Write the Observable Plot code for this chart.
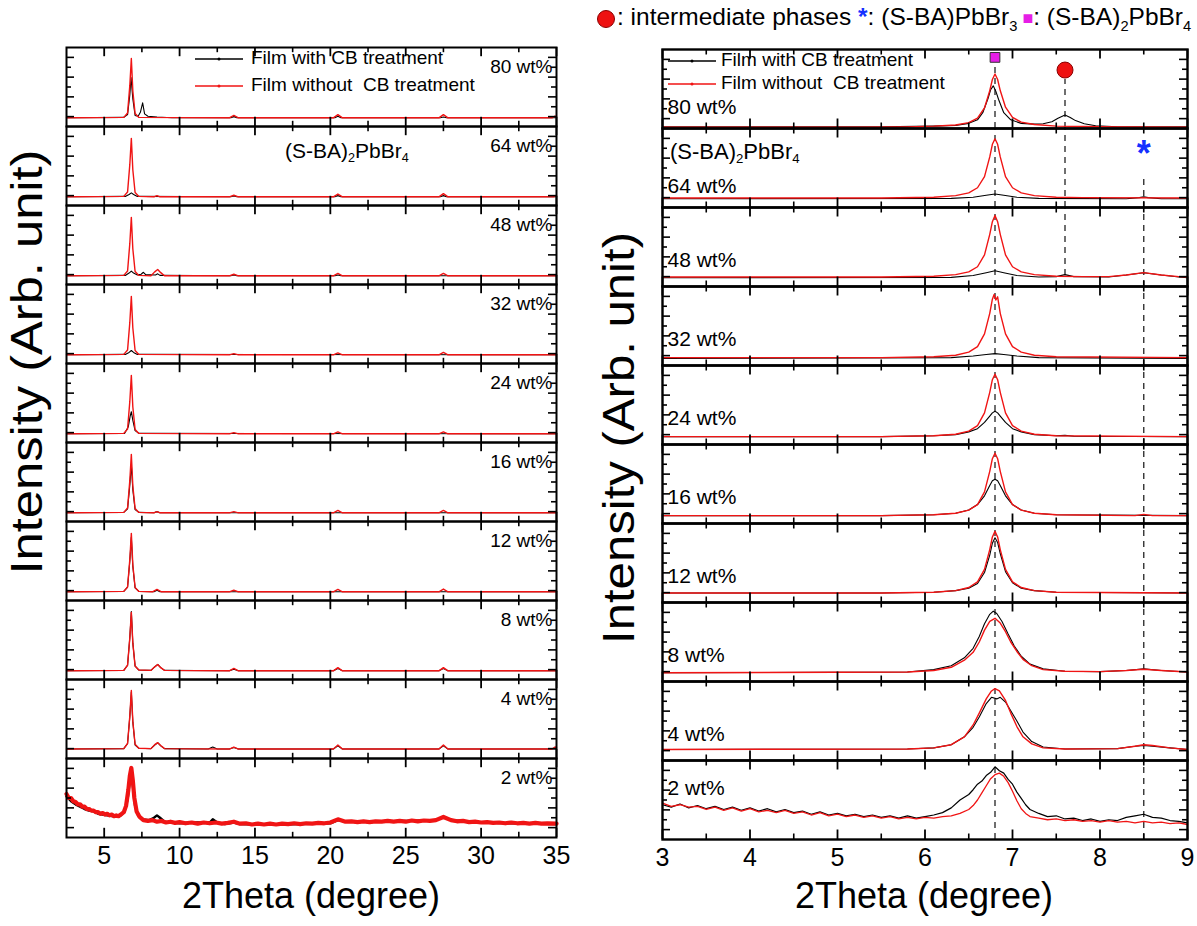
<!DOCTYPE html>
<html><head><meta charset="utf-8">
<script src="https://cdn.jsdelivr.net/npm/d3@7"></script>
<script src="https://cdn.jsdelivr.net/npm/@observablehq/plot@0.6"></script>
<style>
body{margin:0;background:#fff;}
#wrap{position:relative;width:1197px;height:926px;overflow:hidden;font-family:"Liberation Sans",Arial,sans-serif;}
#left{position:absolute;left:0;top:0;}
#right{position:absolute;left:600px;top:0;}
#overlay{position:absolute;left:0;top:0;pointer-events:none;}
</style></head>
<body>
<div id="wrap"><div id="left"></div><div id="right"></div><svg id="overlay" width="1197" height="926"></svg></div>
<script>
// ---------------- DATA ----------------
const concs = ["80 wt%","64 wt%","48 wt%","32 wt%","24 wt%","16 wt%","12 wt%","8 wt%","4 wt%","2 wt%"];

// Left panel (2θ 2.5–35): [x, normalized intensity within its sub-panel]
const L80_with = [[2.5,.11],[6.3,.115],[6.55,.15],[6.7,.4],[6.78,.62],[6.9,.35],[7.05,.14],[7.25,.13],[7.4,.18],[7.55,.3],[7.68,.16],[7.9,.13],[8.5,.12],[9.5,.11],[13.4,.11],[13.6,.125],[13.8,.11],[20.3,.11],[20.5,.13],[20.7,.11],[27.3,.11],[27.5,.12],[27.7,.11],[35,.11]];
const L80_without = [[2.5,.11],[6.3,.115],[6.55,.17],[6.7,.52],[6.8,.86],[6.9,.45],[7.05,.165],[7.3,.115],[13.3,.11],[13.6,.14],[13.9,.11],[20.2,.11],[20.5,.15],[20.8,.11],[27.2,.11],[27.5,.15],[27.8,.11],[34.7,.11],[34.9,.13],[35,.12]];
const L64_with = [[2.5,.11],[6.4,.115],[6.65,.14],[6.8,.16],[6.95,.14],[7.2,.115],[13.4,.11],[13.6,.12],[13.8,.11],[20.3,.11],[20.5,.125],[20.7,.11],[27.3,.11],[27.5,.125],[27.7,.11],[35,.11]];
const L64_without = [[2.5,.11],[6.3,.115],[6.55,.17],[6.7,.52],[6.8,.85],[6.9,.45],[7.05,.165],[7.3,.115],[8.3,.11],[8.5,.125],[8.7,.11],[13.3,.11],[13.6,.13],[13.9,.11],[20.2,.11],[20.5,.145],[20.8,.11],[27.2,.11],[27.5,.15],[27.8,.11],[34.8,.11],[35,.12]];
const L48_with = [[2.5,.11],[6.4,.115],[6.65,.145],[6.8,.17],[6.95,.145],[7.2,.12],[7.45,.13],[7.6,.155],[7.75,.125],[8.4,.12],[8.55,.135],[8.7,.115],[13.4,.11],[13.6,.12],[13.8,.11],[20.3,.11],[20.5,.12],[20.7,.11],[35,.11]];
const L48_without = [[2.5,.11],[6.3,.115],[6.55,.17],[6.7,.52],[6.8,.85],[6.9,.45],[7.05,.165],[7.3,.115],[8.1,.11],[8.35,.16],[8.55,.19],[8.75,.15],[9,.11],[13.3,.11],[13.6,.13],[13.9,.11],[20.2,.11],[20.5,.14],[20.8,.11],[27.2,.11],[27.5,.14],[27.8,.11],[35,.11]];
const L32_with = [[2.5,.11],[6.4,.115],[6.65,.14],[6.8,.165],[6.95,.14],[7.2,.115],[35,.11]];
const L32_without = [[2.5,.11],[6.3,.115],[6.55,.17],[6.7,.52],[6.8,.85],[6.9,.45],[7.05,.165],[7.3,.115],[13.3,.11],[13.6,.125],[13.9,.11],[20.2,.11],[20.5,.135],[20.8,.11],[27.2,.11],[27.5,.14],[27.8,.11],[35,.11]];
const L24_with = [[2.5,.11],[6.35,.115],[6.6,.2],[6.72,.33],[6.8,.39],[6.9,.28],[7.05,.15],[7.3,.115],[35,.11]];
const L24_without = [[2.5,.11],[6.3,.115],[6.55,.17],[6.7,.52],[6.8,.85],[6.9,.45],[7.05,.165],[7.3,.115],[13.3,.11],[13.6,.125],[13.9,.11],[20.2,.11],[20.5,.135],[20.8,.11],[27.2,.11],[27.5,.135],[27.8,.11],[35,.11]];
const L16_with = [[2.5,.11],[6.3,.115],[6.55,.16],[6.7,.46],[6.8,.72],[6.9,.4],[7.05,.15],[7.3,.115],[8.3,.11],[8.5,.125],[8.7,.11],[35,.11]];
const L16_without = [[2.5,.11],[6.3,.115],[6.55,.17],[6.7,.52],[6.8,.85],[6.9,.45],[7.05,.165],[7.3,.115],[8.3,.11],[8.5,.125],[8.7,.11],[13.3,.11],[13.6,.125],[13.9,.11],[20.2,.11],[20.5,.14],[20.8,.11],[27.2,.11],[27.5,.14],[27.8,.11],[35,.11]];
const L12_with = [[2.5,.11],[6.3,.115],[6.55,.17],[6.7,.5],[6.8,.8],[6.9,.43],[7.05,.16],[7.3,.115],[8.3,.11],[8.5,.13],[8.7,.11],[35,.11]];
const L12_without = [[2.5,.11],[6.3,.115],[6.55,.17],[6.7,.52],[6.8,.85],[6.9,.45],[7.05,.165],[7.3,.115],[8.2,.11],[8.5,.14],[8.8,.11],[13.3,.11],[13.6,.13],[13.9,.11],[20.2,.11],[20.5,.14],[20.8,.11],[27.2,.11],[27.5,.145],[27.8,.11],[35,.11]];
const L8_with = [[2.5,.11],[6.3,.115],[6.55,.18],[6.7,.53],[6.8,.86],[6.9,.46],[7.05,.17],[7.3,.12],[8.1,.115],[8.35,.16],[8.55,.19],[8.75,.15],[9,.115],[13.3,.11],[13.6,.13],[13.9,.11],[20.2,.11],[20.5,.14],[20.8,.11],[27.2,.11],[27.5,.14],[27.8,.11],[35,.11]];
const L8_without = [[2.5,.11],[6.3,.115],[6.55,.18],[6.7,.53],[6.8,.85],[6.9,.46],[7.05,.17],[7.3,.12],[8.1,.115],[8.35,.16],[8.55,.19],[8.75,.15],[9,.115],[13.3,.11],[13.6,.14],[13.9,.11],[20.2,.11],[20.5,.15],[20.8,.11],[27.2,.11],[27.5,.15],[27.8,.11],[35,.11]];
const L4_with = [[2.5,.12],[6.3,.125],[6.55,.19],[6.7,.53],[6.8,.84],[6.9,.46],[7.05,.17],[7.3,.13],[8.1,.125],[8.35,.17],[8.55,.2],[8.75,.16],[9,.125],[11.9,.12],[12.2,.145],[12.5,.12],[13.3,.12],[13.6,.14],[13.9,.12],[20.2,.12],[20.5,.16],[20.8,.12],[27.2,.12],[27.5,.16],[27.8,.12],[35,.12]];
const L4_without = [[2.5,.12],[6.3,.125],[6.55,.19],[6.7,.54],[6.8,.86],[6.9,.47],[7.05,.18],[7.3,.13],[8.1,.125],[8.35,.175],[8.55,.2],[8.75,.165],[9,.125],[13.3,.12],[13.6,.145],[13.9,.12],[20.2,.12],[20.5,.17],[20.8,.12],[27.2,.12],[27.5,.17],[27.8,.12],[34.7,.12],[34.9,.145],[35,.14]];
const L2_with = [[2.5,.52],[2.8,.46],[3.1,.42],[3.4,.39],[3.7,.36],[4,.34],[4.3,.33],[4.6,.3],[4.9,.29],[5.2,.28],[5.5,.27],[5.8,.27],[6.1,.28],[6.35,.33],[6.55,.48],[6.7,.72],[6.8,.84],[6.9,.66],[7.05,.4],[7.25,.28],[7.5,.23],[8,.22],[8.3,.25],[8.5,.28],[8.7,.25],[9,.2],[10,.18],[11,.19],[12,.19],[12.2,.23],[12.5,.19],[13,.17],[13.6,.19],[14,.17],[16,.16],[18,.17],[20,.18],[20.5,.22],[21,.2],[23,.2],[25,.21],[27,.22],[27.5,.26],[28,.22],[30,.19],[32,.18],[35,.17]];
const L2_without = [[2.5,.55],[2.65,.5],[2.8,.5],[2.95,.46],[3.1,.45],[3.25,.42],[3.4,.42],[3.55,.39],[3.7,.39],[3.85,.36],[4,.36],[4.15,.34],[4.3,.34],[4.45,.32],[4.6,.32],[4.75,.3],[4.9,.31],[5.05,.29],[5.2,.3],[5.35,.28],[5.5,.29],[5.65,.27],[5.8,.28],[5.95,.27],[6.1,.29],[6.3,.32],[6.45,.4],[6.6,.6],[6.7,.78],[6.8,.88],[6.9,.72],[7.0,.5],[7.15,.33],[7.35,.26],[7.6,.22],[7.9,.21],[8.2,.22],[8.5,.2],[8.8,.21],[9.1,.19],[9.4,.2],[9.7,.185],[10,.195],[10.4,.18],[10.8,.19],[11.2,.175],[11.6,.19],[12,.18],[12.4,.19],[12.8,.175],[13.2,.185],[13.6,.2],[14,.175],[14.4,.18],[14.8,.165],[15.2,.175],[15.6,.165],[16,.175],[16.4,.165],[16.8,.175],[17.2,.17],[17.6,.18],[18,.17],[18.4,.18],[18.8,.175],[19.2,.185],[19.6,.18],[20,.19],[20.5,.23],[21,.2],[21.4,.205],[21.8,.195],[22.2,.205],[22.6,.195],[23,.205],[23.4,.2],[23.8,.21],[24.2,.2],[24.6,.21],[25,.2],[25.4,.215],[25.8,.205],[26.2,.215],[26.6,.21],[27,.22],[27.5,.26],[28,.22],[28.4,.205],[28.8,.21],[29.2,.195],[29.6,.2],[30,.19],[30.4,.195],[30.8,.185],[31.2,.19],[31.6,.18],[32,.19],[32.4,.18],[32.8,.185],[33.2,.175],[33.6,.185],[34,.175],[34.4,.18],[35,.175]];

// Right panel (2θ 3–9)
const R80_with = [[3,.02],[5.5,.02],[6.1,.03],[6.35,.04],[6.5,.065],[6.6,.11],[6.66,.2],[6.72,.38],[6.75,.49],[6.78,.54],[6.81,.47],[6.84,.37],[6.9,.2],[6.98,.11],[7.1,.065],[7.25,.055],[7.35,.06],[7.45,.085],[7.52,.13],[7.6,.17],[7.66,.14],[7.72,.1],[7.82,.06],[7.95,.035],[8.2,.022],[9,.02]];
const R80_without = [[3,.015],[5.3,.015],[5.8,.02],[6.1,.03],[6.35,.045],[6.5,.075],[6.6,.13],[6.68,.26],[6.74,.48],[6.77,.62],[6.8,.69],[6.83,.62],[6.86,.48],[6.92,.27],[7.0,.14],[7.1,.08],[7.25,.05],[7.5,.03],[7.8,.025],[8.2,.02],[9,.015]];
const R64_with = [[3,.11],[6.3,.115],[6.55,.13],[6.7,.155],[6.8,.17],[6.9,.155],[7.05,.13],[7.3,.115],[8.3,.11],[8.45,.125],[8.5,.135],[8.55,.125],[8.7,.11],[9,.11]];
const R64_without = [[3,.12],[5.5,.12],[6.1,.13],[6.35,.15],[6.5,.185],[6.6,.25],[6.68,.39],[6.74,.64],[6.77,.8],[6.8,.87],[6.83,.8],[6.86,.64],[6.92,.39],[7.0,.25],[7.1,.185],[7.25,.15],[7.5,.13],[7.8,.125],[9,.12]];
const R48_with = [[3,.11],[6.3,.115],[6.55,.14],[6.7,.175],[6.8,.2],[6.9,.175],[7.05,.14],[7.3,.12],[7.5,.125],[7.6,.15],[7.7,.125],[8.1,.12],[8.3,.145],[8.5,.175],[8.7,.145],[8.9,.12],[9,.11]];
const R48_without = [[3,.12],[5.5,.12],[6.1,.13],[6.35,.15],[6.5,.185],[6.6,.25],[6.68,.4],[6.74,.66],[6.77,.82],[6.8,.9],[6.83,.82],[6.86,.66],[6.92,.4],[7.0,.25],[7.1,.185],[7.25,.15],[7.5,.13],[7.8,.125],[8.1,.125],[8.3,.145],[8.5,.175],[8.7,.145],[8.9,.125],[9,.12]];
const R32_with = [[3,.09],[6.3,.1],[6.55,.12],[6.7,.14],[6.8,.15],[6.9,.14],[7.05,.12],[7.3,.1],[9,.09]];
const R32_without = [[3,.1],[5.5,.1],[6.1,.11],[6.35,.13],[6.5,.17],[6.6,.24],[6.68,.4],[6.74,.66],[6.77,.84],[6.79,.9],[6.81,.83],[6.83,.87],[6.86,.66],[6.92,.4],[7.0,.24],[7.1,.17],[7.25,.13],[7.5,.11],[9,.1]];
const R24_with = [[3,.1],[5.5,.1],[6.1,.11],[6.35,.125],[6.5,.16],[6.6,.2],[6.68,.28],[6.74,.36],[6.77,.4],[6.8,.42],[6.83,.4],[6.86,.36],[6.92,.28],[7.0,.2],[7.1,.16],[7.25,.125],[7.5,.11],[7.6,.115],[7.7,.105],[9,.1]];
const R24_without = [[3,.1],[5.5,.1],[6.1,.11],[6.35,.13],[6.5,.17],[6.6,.24],[6.68,.4],[6.74,.66],[6.77,.82],[6.8,.89],[6.83,.82],[6.86,.66],[6.92,.4],[7.0,.24],[7.1,.17],[7.25,.13],[7.5,.11],[9,.1]];
const R16_with = [[3,.1],[5.5,.1],[6.1,.11],[6.35,.13],[6.5,.17],[6.6,.24],[6.68,.35],[6.74,.48],[6.77,.54],[6.8,.56],[6.83,.54],[6.86,.48],[6.92,.35],[7.0,.24],[7.1,.17],[7.25,.13],[7.5,.11],[9,.1]];
const R16_without = [[3,.1],[5.5,.1],[6.1,.11],[6.35,.13],[6.5,.17],[6.6,.24],[6.68,.4],[6.74,.66],[6.77,.82],[6.8,.89],[6.83,.82],[6.86,.66],[6.92,.4],[7.0,.24],[7.1,.17],[7.25,.13],[7.5,.11],[8.4,.1],[8.5,.115],[8.6,.1],[9,.1]];
const R12_with = [[3,.12],[5.5,.12],[6.1,.13],[6.35,.15],[6.5,.18],[6.6,.24],[6.68,.38],[6.74,.6],[6.77,.75],[6.8,.82],[6.83,.76],[6.86,.62],[6.92,.39],[7.0,.25],[7.1,.18],[7.25,.15],[7.5,.13],[9,.12]];
const R12_without = [[3,.12],[5.5,.12],[6.1,.13],[6.35,.15],[6.5,.19],[6.6,.26],[6.68,.42],[6.74,.67],[6.77,.83],[6.8,.9],[6.83,.83],[6.86,.67],[6.92,.42],[7.0,.26],[7.1,.19],[7.25,.15],[7.5,.13],[9,.12]];
const R8_with = [[3,.11],[5.8,.12],[6.1,.15],[6.3,.2],[6.45,.3],[6.55,.42],[6.62,.57],[6.68,.73],[6.74,.85],[6.78,.89],[6.82,.86],[6.88,.76],[6.95,.6],[7.02,.45],[7.1,.32],[7.2,.22],[7.35,.16],[7.6,.13],[8.0,.125],[8.3,.14],[8.5,.16],[8.7,.14],[9,.12]];
const R8_without = [[3,.11],[5.8,.12],[6.1,.14],[6.3,.18],[6.45,.27],[6.55,.37],[6.62,.5],[6.68,.65],[6.74,.76],[6.8,.8],[6.86,.74],[6.92,.63],[6.98,.5],[7.05,.38],[7.12,.28],[7.22,.2],[7.35,.15],[7.6,.13],[8.0,.125],[8.3,.14],[8.5,.155],[8.7,.14],[9,.12]];
const R4_with = [[3,.14],[5.8,.145],[6.1,.16],[6.3,.2],[6.45,.3],[6.55,.42],[6.62,.55],[6.7,.72],[6.76,.8],[6.82,.78],[6.86,.8],[6.92,.74],[6.98,.63],[7.05,.5],[7.12,.36],[7.22,.24],[7.35,.17],[7.6,.145],[8.2,.15],[8.4,.18],[8.5,.19],[8.6,.18],[8.8,.16],[9,.14]];
const R4_without = [[3,.14],[5.8,.145],[6.1,.16],[6.3,.2],[6.45,.3],[6.55,.45],[6.62,.6],[6.7,.78],[6.76,.88],[6.8,.91],[6.85,.88],[6.92,.76],[6.98,.6],[7.05,.43],[7.12,.3],[7.22,.21],[7.35,.16],[7.6,.145],[8.2,.15],[8.4,.18],[8.5,.2],[8.6,.19],[8.8,.16],[9,.14]];
const R2_with = [[3.0,.44],[3.1,.41],[3.2,.45],[3.3,.40],[3.4,.43],[3.5,.39],[3.6,.42],[3.7,.38],[3.8,.41],[3.9,.37],[4.0,.40],[4.1,.36],[4.2,.39],[4.3,.35],[4.4,.38],[4.5,.34],[4.6,.36],[4.7,.32],[4.8,.35],[4.9,.31],[5.0,.33],[5.1,.30],[5.2,.32],[5.3,.29],[5.4,.31],[5.5,.28],[5.6,.30],[5.7,.27],[5.8,.30],[5.9,.27],[6.0,.29],[6.1,.31],[6.2,.34],[6.3,.40],[6.4,.50],[6.5,.57],[6.55,.63],[6.6,.70],[6.65,.74],[6.7,.81],[6.75,.85],[6.8,.92],[6.85,.87],[6.9,.84],[6.95,.76],[7.0,.70],[7.05,.60],[7.1,.52],[7.15,.44],[7.2,.38],[7.3,.33],[7.4,.29],[7.5,.30],[7.6,.26],[7.7,.27],[7.8,.24],[7.9,.26],[8.0,.23],[8.1,.25],[8.2,.24],[8.3,.28],[8.4,.30],[8.5,.32],[8.6,.28],[8.7,.27],[8.8,.24],[8.9,.23],[9.0,.21]];
const R2_without = [[3.0,.46],[3.1,.42],[3.2,.44],[3.3,.41],[3.4,.42],[3.5,.38],[3.6,.41],[3.7,.37],[3.8,.40],[3.9,.36],[4.0,.39],[4.1,.35],[4.2,.37],[4.3,.34],[4.4,.37],[4.5,.33],[4.6,.35],[4.7,.31],[4.8,.34],[4.9,.30],[5.0,.32],[5.1,.29],[5.2,.31],[5.3,.28],[5.4,.30],[5.5,.27],[5.6,.29],[5.7,.26],[5.8,.28],[5.9,.26],[6.0,.28],[6.1,.27],[6.2,.29],[6.3,.30],[6.4,.33],[6.5,.38],[6.55,.43],[6.6,.50],[6.65,.59],[6.7,.68],[6.75,.77],[6.8,.82],[6.85,.84],[6.9,.80],[6.95,.72],[7.0,.61],[7.05,.49],[7.1,.39],[7.15,.33],[7.2,.29],[7.3,.27],[7.4,.25],[7.5,.26],[7.6,.24],[7.7,.25],[7.8,.23],[7.9,.24],[8.0,.22],[8.1,.24],[8.2,.22],[8.3,.23],[8.4,.21],[8.5,.23],[8.6,.21],[8.7,.22],[8.8,.2],[8.9,.21],[9.0,.19]];

const leftWith = [L80_with,L64_with,L48_with,L32_with,L24_with,L16_with,L12_with,L8_with,L4_with,L2_with];
const leftWithout = [L80_without,L64_without,L48_without,L32_without,L24_without,L16_without,L12_without,L8_without,L4_without,L2_without];
const rightWith = [R80_with,R64_with,R48_with,R32_with,R24_with,R16_with,R12_with,R8_with,R4_with,R2_with];
const rightWithout = [R80_without,R64_without,R48_without,R32_without,R24_without,R16_without,R12_without,R8_without,R4_without,R2_without];

// Tick values
const leftXMajor = [5,10,15,20,25,30,35];
const leftXMinor = [7.5,12.5,17.5,22.5,27.5,32.5];
const rightXMajor = [3,4,5,6,7,8,9];
const rightXMinor = [3.5,4.5,5.5,6.5,7.5,8.5];
const yMajor = [0.125,0.375,0.625,0.875];
const yMinor = [0.25,0.5,0.75];

// Reference peak positions (dashed guides) and phase markers
const guideLines = [
  {x:6.8, conc:"80 wt%", y1:0, y2:0.8},
  ...concs.slice(1).map(c => ({x:6.8, conc:c, y1:0, y2:1})),
  {x:7.6, conc:"80 wt%", y1:0, y2:0.62},
  {x:7.6, conc:"64 wt%", y1:0, y2:1},
  {x:7.6, conc:"48 wt%", y1:0, y2:1},
  {x:8.5, conc:"64 wt%", y1:0, y2:0.38},
  ...concs.slice(2).map(c => ({x:8.5, conc:c, y1:0, y2:1}))
];
const squareMark = [{conc:"80 wt%", x:6.8, y:0.9}];
const circleMark = [{conc:"80 wt%", x:7.6, y:0.74}];
const starMark = [{conc:"64 wt%", x:8.5, y:0.8}];

// ---------------- BUILD ----------------
const toRows = (list) => concs.flatMap((c,i) => list[i].map(([x,y]) => ({conc:c, x, y})));
const RED = "#f01414";
const FONT = "'Liberation Sans', Arial, sans-serif";

function panel({width, height, ml, mr, mt, mb, xdom, xMaj, xMin, withRows, withoutRows, labelMarks, extra, frameW}) {
  const iw = width - ml - mr;
  const fh = (height - mt - mb) / concs.length;
  const thin = r => r.conc !== "2 wt%";
  const thick = r => r.conc === "2 wt%";
  return Plot.plot({
    width, height, marginLeft: ml, marginRight: mr, marginTop: mt, marginBottom: mb,
    style: {fontFamily: FONT, fontSize: "25px", background: "transparent", overflow: "visible", color: "black"},
    x: {domain: xdom},
    y: {domain: [0, 1], axis: null},
    fy: {domain: concs, padding: 0, axis: null},
    marks: [
      ...(extra.before || []),
      Plot.line(withRows.filter(thin), {x: "x", y: "y", fy: "conc", z: "conc", stroke: "black", strokeWidth: 1.1}),
      Plot.line(withRows.filter(thick), {x: "x", y: "y", fy: "conc", z: "conc", stroke: "black", strokeWidth: extra.thickW ? extra.thickW[0] : 1.2}),
      Plot.line(withoutRows.filter(thin), {x: "x", y: "y", fy: "conc", z: "conc", stroke: RED, strokeWidth: 1.4}),
      Plot.line(withoutRows.filter(thick), {x: "x", y: "y", fy: "conc", z: "conc", stroke: RED, strokeWidth: extra.thickW ? extra.thickW[1] : 1.3}),
      // inward ticks
      Plot.tickY(yMajor, {y: d => d, insetRight: iw - 8, stroke: "black", strokeWidth: 1.6}),
      Plot.tickY(yMinor, {y: d => d, insetRight: iw - 5, stroke: "black", strokeWidth: 1.6}),
      Plot.tickY(yMajor, {y: d => d, insetLeft: iw - 8, stroke: "black", strokeWidth: 1.6}),
      Plot.tickY(yMinor, {y: d => d, insetLeft: iw - 5, stroke: "black", strokeWidth: 1.6}),
      Plot.tickX(xMaj, {x: d => d, insetTop: fh - 10, stroke: "black", strokeWidth: 1.8}),
      Plot.tickX(xMaj, {x: d => d, insetBottom: fh - 10, stroke: "black", strokeWidth: 1.8}),
      Plot.tickX(xMin, {x: d => d, insetTop: fh - 6, stroke: "black", strokeWidth: 1.6}),
      Plot.tickX(xMin, {x: d => d, insetBottom: fh - 6, stroke: "black", strokeWidth: 1.6}),
      Plot.frame({stroke: "black", strokeWidth: frameW}),
      ...labelMarks,
      ...(extra.after || []),
      Plot.axisX(xMaj, {tickSize: 0, tickPadding: 9, fontSize: 25, label: null, tickFormat: d => String(d)})
    ]
  });
}

const leftPlot = panel({
  width: 600, height: 926, ml: 66, mr: 44, mt: 43, mb: 85,
  xdom: [2.5, 35], xMaj: leftXMajor, xMin: leftXMinor,
  withRows: toRows(leftWith), withoutRows: toRows(leftWithout), frameW: 2,
  labelMarks: [
    Plot.text(concs, {fy: d => d, text: d => d, frameAnchor: "top-right", dx: -4, dy: 19, textAnchor: "end", lineAnchor: "middle", fontSize: 19, fill: "black"})
  ],
  extra: {thickW: [2.4, 4.2]}
});
document.getElementById("left").appendChild(leftPlot);

const rightPlot = panel({
  width: 597, height: 926, ml: 62, mr: 10, mt: 46, mb: 85,
  xdom: [3, 9], xMaj: rightXMajor, xMin: rightXMinor,
  withRows: toRows(rightWith), withoutRows: toRows(rightWithout), frameW: 2.4,
  labelMarks: [
    Plot.text(concs.slice(0, 2), {fy: d => d, text: d => d, frameAnchor: "top-left", dx: 5, dy: 58, textAnchor: "start", lineAnchor: "middle", fontSize: 21, fill: "black"}),
    Plot.text(concs.slice(2, 9), {fy: d => d, text: d => d, frameAnchor: "top-left", dx: 5, dy: 53, textAnchor: "start", lineAnchor: "middle", fontSize: 21, fill: "black"}),
    Plot.text(concs.slice(9), {fy: d => d, text: d => d, frameAnchor: "top-left", dx: 5, dy: 28, textAnchor: "start", lineAnchor: "middle", fontSize: 21, fill: "black"})
  ],
  extra: {
    before: [
      Plot.ruleX(guideLines, {x: "x", fy: "conc", y1: "y1", y2: "y2", stroke: "#333", strokeWidth: 1.4, strokeDasharray: "6,5"})
    ],
    after: [
      Plot.dot(squareMark, {x: "x", y: "y", fy: "conc", symbol: "square", r: 5.5, fill: "#e61ee6", stroke: "#333", strokeWidth: 1}),
      Plot.dot(circleMark, {x: "x", y: "y", fy: "conc", r: 8, fill: "#ee1111", stroke: "#8a0000", strokeWidth: 1}),
      Plot.text(starMark, {x: "x", y: "y", fy: "conc", text: () => "*", fill: "#1530ff", fontSize: 36, fontWeight: "bold", dy: 10})
    ]
  }
});
document.getElementById("right").appendChild(rightPlot);

// ---------------- OVERLAY TEXT ----------------
const ov = d3.select("#overlay").style("font-family", FONT);

function rich(x, y, parts, size, anchor = "start") {
  const t = ov.append("text").attr("x", x).attr("y", y).attr("font-size", size)
    .attr("dominant-baseline", "middle").attr("text-anchor", anchor).style("white-space", "pre");
  for (const p of parts) {
    const s = t.append("tspan").text(p.t);
    if (p.fill) s.attr("fill", p.fill);
    if (p.sub) s.attr("font-size", size * 0.6).attr("dy", size * 0.32);
    else if (p.after) s.attr("dy", -size * 0.32);
    if (p.weight) s.attr("font-weight", p.weight);
    if (p.fs) s.attr("font-size", p.fs);
  }
  return t;
}

// axis titles
ov.append("text").attr("x", 311).attr("y", 898).attr("text-anchor", "middle").attr("dominant-baseline", "middle").attr("font-size", 36).text("2Theta (degree)");
ov.append("text").attr("x", 924).attr("y", 898).attr("text-anchor", "middle").attr("dominant-baseline", "middle").attr("font-size", 36).text("2Theta (degree)");
ov.append("text").attr("transform", "translate(30,362) rotate(-90)").attr("text-anchor", "middle").attr("dominant-baseline", "middle").attr("font-size", 44).attr("textLength", 425).attr("lengthAdjust", "spacingAndGlyphs").text("Intensity (Arb. unit)");
ov.append("text").attr("transform", "translate(622,438) rotate(-90)").attr("text-anchor", "middle").attr("dominant-baseline", "middle").attr("font-size", 44).attr("textLength", 412).attr("lengthAdjust", "spacingAndGlyphs").text("Intensity (Arb. unit)");

// compound labels
rich(285, 152, [{t:"(S-BA)"},{t:"2",sub:true},{t:"PbBr",after:true},{t:"4",sub:true}], 21);
rich(670, 153, [{t:"(S-BA)"},{t:"2",sub:true},{t:"PbBr",after:true},{t:"4",sub:true}], 22);

// legends
function legend(x0, x1, y, color, label, tx, size) {
  ov.append("line").attr("x1", x0).attr("x2", x1).attr("y1", y).attr("y2", y).attr("stroke", color).attr("stroke-width", 1.3);
  ov.append("circle").attr("cx", (x0 + x1) / 2).attr("cy", y).attr("r", 1.5).attr("fill", color);
  rich(tx, y, [{t: label}], size);
}
legend(195, 243, 59, "black", "Film with CB treatment", 251, 19);
legend(195, 243, 86, RED, "Film without  CB treatment", 251, 19);
legend(668, 716, 61, "black", "Film with CB treatment", 721, 19);
legend(668, 716, 84, RED, "Film without  CB treatment", 721, 19);

// top phase legend
ov.append("circle").attr("cx", 606).attr("cy", 19).attr("r", 8.5).attr("fill", "#ee1111").attr("stroke", "#8a0000");
rich(617, 19, [
  {t: ": intermediate phases "},
  {t: "*", fill: "#1530ff", weight: "bold"},
  {t: ": (S-BA)PbBr"}, {t: "3", sub: true},
  {t: " \u25A0", fill: "#e61ee6", after: true, fs: 18},
  {t: ": (S-BA)"}, {t: "2", sub: true}, {t: "PbBr", after: true}, {t: "4", sub: true}
], 24.5);
</script>
</body></html>
